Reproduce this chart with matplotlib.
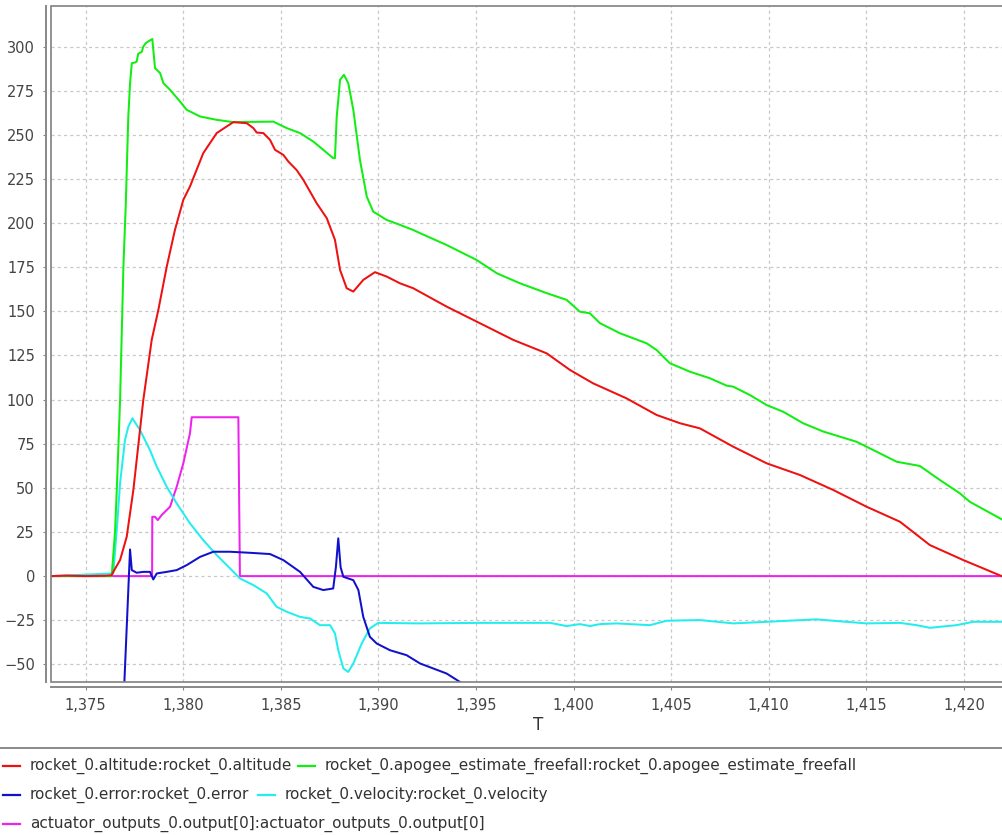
import matplotlib
matplotlib.use("Agg")
import matplotlib.pyplot as plt
from matplotlib.lines import Line2D
from matplotlib.patches import Rectangle
from matplotlib.ticker import FuncFormatter

# ---------------- data ----------------
t_alt = [1373.22, 1374.0, 1375.0, 1376.0, 1376.33, 1376.41, 1376.76, 1377.10, 1377.44, 1377.78,
         1377.95, 1378.38, 1378.72, 1379.15, 1379.57, 1380.00, 1380.34, 1381.02, 1381.71, 1382.56,
         1383.25, 1383.59, 1383.76, 1384.10, 1384.44, 1384.70, 1385.12, 1385.38, 1385.81, 1386.15,
         1386.49, 1386.83, 1387.35, 1387.77, 1388.03, 1388.37, 1388.71, 1389.22, 1389.82, 1390.42,
         1391.10, 1391.78, 1393.49, 1395.03, 1396.91, 1398.62, 1399.81, 1401.00, 1402.71, 1404.25,
         1405.45, 1406.47, 1408.18, 1409.89, 1411.59, 1413.30, 1415.01, 1416.72, 1418.25, 1419.96,
         1420.98, 1422.01]
altitude = [0.0, 0.3, 0.0, 0.2, 0.5, 2.4, 9.1, 22.3, 48.8, 82.8,
            99.8, 133.8, 150.8, 175.3, 196.1, 213.2, 220.7, 239.6, 251.0, 257.2,
            256.6, 253.8, 251.3, 251.0, 247.2, 241.5, 238.7, 234.9, 230.0, 224.5,
            217.9, 211.3, 202.8, 190.5, 173.5, 163.1, 161.2, 167.8, 172.2, 169.7,
            165.9, 163.1, 152.7, 144.2, 133.8, 126.2, 116.8, 109.2, 100.7, 91.3,
            86.6, 83.7, 73.3, 63.9, 57.3, 48.8, 39.3, 30.8, 17.6, 9.1,
            4.4, -0.4]

t_apo = [1373.22, 1376.33, 1376.50, 1376.59, 1376.76, 1376.93, 1377.05, 1377.18, 1377.27, 1377.36,
         1377.53, 1377.61, 1377.69, 1377.87, 1377.95, 1378.08, 1378.21, 1378.41, 1378.55, 1378.81,
         1378.98, 1379.32, 1379.83, 1380.17, 1380.86, 1381.71, 1382.56, 1384.61, 1384.78, 1385.30,
         1385.98, 1386.66, 1387.17, 1387.68, 1387.77, 1387.86, 1387.94, 1388.03, 1388.23, 1388.45,
         1388.71, 1389.05, 1389.40, 1389.73, 1390.42, 1391.10, 1391.78, 1392.13, 1393.49, 1395.03,
         1396.06, 1397.25, 1398.62, 1399.64, 1400.32, 1400.83, 1401.35, 1402.37, 1403.74, 1404.25,
         1404.93, 1405.96, 1406.98, 1407.84, 1408.18, 1409.03, 1409.89, 1410.74, 1411.76, 1412.79,
         1414.50, 1415.52, 1416.55, 1417.74, 1418.77, 1419.79, 1420.30, 1422.01]
apogee = [0.0, 0.0, 25.0, 48.8, 99.8, 175.3, 210.0, 260.0, 279.0, 290.6,
          291.0, 291.5, 296.0, 297.0, 300.0, 302.0, 303.0, 304.3, 287.8, 285.0,
          279.3, 275.5, 268.9, 264.2, 260.4, 258.5, 257.2, 257.5, 256.6, 253.8,
          251.0, 246.2, 241.5, 236.8, 236.8, 260.4, 269.8, 281.2, 284.0, 279.3,
          264.2, 235.8, 215.0, 206.5, 201.8, 199.0, 196.1, 194.3, 187.6, 179.1,
          171.6, 165.9, 160.3, 156.5, 149.8, 148.9, 143.3, 137.6, 131.9, 128.1,
          120.6, 115.8, 112.1, 107.9, 107.3, 102.6, 96.9, 93.1, 86.6, 81.9,
          76.1, 70.5, 64.8, 62.4, 54.4, 46.9, 42.1, 31.7]

t_err = [1376.98, 1377.27, 1377.36, 1377.61, 1377.95, 1378.29, 1378.46, 1378.64, 1379.15, 1379.66,
         1380.17, 1380.86, 1381.54, 1382.39, 1383.42, 1384.44, 1385.12, 1385.98, 1386.66, 1387.17,
         1387.68, 1387.82, 1387.94, 1388.06, 1388.20, 1388.71, 1388.97, 1389.22, 1389.56, 1389.91,
         1390.59, 1391.44, 1392.13, 1393.49, 1394.18]
error = [-60.0, 15.1, 3.4, 1.9, 2.4, 2.4, -1.9, 1.5, 2.4, 3.4,
         6.2, 10.9, 13.8, 13.8, 13.2, 12.5, 9.1, 2.4, -6.1, -7.9,
         -7.0, 5.3, 21.4, 5.0, -0.4, -2.3, -7.9, -23.1, -34.4, -38.2,
         -42.0, -44.8, -49.5, -55.2, -60.0]

t_vel = [1373.22, 1376.41, 1376.59, 1376.76, 1377.01, 1377.18, 1377.39, 1377.78, 1378.29, 1378.64,
         1379.15, 1379.66, 1380.34, 1381.02, 1381.71, 1382.39, 1382.90, 1383.59, 1384.27, 1384.78,
         1385.30, 1385.98, 1386.49, 1387.00, 1387.52, 1387.77, 1387.94, 1388.20, 1388.45, 1388.71,
         1389.14, 1389.56, 1389.99, 1392.00, 1395.20, 1398.79, 1399.64, 1400.32, 1400.83, 1401.35,
         1402.20, 1403.91, 1404.76, 1406.47, 1408.18, 1409.89, 1412.45, 1413.30, 1415.01, 1416.72,
         1417.57, 1418.25, 1419.62, 1420.47, 1422.01]
velocity = [0.0, 1.5, 26.1, 52.7, 77.1, 84.6, 89.4, 82.8, 71.4, 62.0,
            50.6, 41.2, 29.9, 20.4, 11.9, 4.4, -1.3, -5.1, -9.8, -17.4,
            -20.2, -23.1, -24.0, -27.8, -27.8, -32.5, -42.0, -52.3, -54.3, -49.5,
            -38.2, -29.6, -26.5, -26.8, -26.5, -26.5, -28.3, -27.2, -28.3, -27.2,
            -26.8, -27.8, -25.3, -24.9, -26.8, -25.9, -24.5, -25.3, -26.8, -26.5,
            -27.8, -29.3, -27.8, -25.9, -25.9]

t_act = [1373.22, 1378.40, 1378.41, 1378.55, 1378.69, 1378.89, 1379.32, 1379.66, 1380.00, 1380.34,
         1380.43, 1382.82, 1382.90, 1422.01]
actuator = [0.0, 0.0, 33.6, 33.6, 31.7, 34.6, 39.3, 50.6, 63.9, 80.9,
            90.0, 90.0, 0.0, 0.0]

labels = ["rocket_0.altitude:rocket_0.altitude",
          "rocket_0.apogee_estimate_freefall:rocket_0.apogee_estimate_freefall",
          "rocket_0.error:rocket_0.error",
          "rocket_0.velocity:rocket_0.velocity",
          "actuator_outputs_0.output[0]:actuator_outputs_0.output[0]"]
colors = ["#ee1111", "#11ee11", "#1111cc", "#22eeee", "#ee22ee"]
x_label = "T"
y_ticks = list(range(-50, 301, 25))
x_ticks = list(range(1375, 1421, 5))

# ---------------- figure ----------------
W, H = 1003, 835
fig = plt.figure(figsize=(W / 100, H / 100), dpi=100)
fig.patch.set_facecolor("white")
ax = fig.add_axes([51 / W, 1 - 682 / H, (1003 - 51) / W, (682 - 6) / H])

series = [(t_alt, altitude), (t_apo, apogee), (t_err, error), (t_vel, velocity), (t_act, actuator)]
for i, (t, v) in enumerate(series):
    ax.plot(t, v, color=colors[i], lw=1.45, zorder=10 - i, solid_joinstyle="round")

ax.set_xlim(1373.22, 1422.0)
ax.set_ylim(-60, 323)
ax.set_yticks(y_ticks)
ax.set_xticks(x_ticks)
ax.xaxis.set_major_formatter(FuncFormatter(lambda v, p: f"{v:,.0f}"))
ax.grid(True, color="#c8c8c8", lw=0.9, ls=(0, (2.5, 2.5)))
ax.set_axisbelow(True)

for s in ("top", "right"):
    ax.spines[s].set_visible(False)
for s in ("left", "bottom"):
    ax.spines[s].set_position(("outward", 3.6))
    ax.spines[s].set_color("#888888")
    ax.spines[s].set_linewidth(1.4)
ax.add_patch(Rectangle((0, 0), 1, 1, transform=ax.transAxes, fill=False,
                       edgecolor="#808080", lw=1.2, clip_on=False, zorder=20))

ax.tick_params(axis="both", length=2, width=0.8, color="#888888",
               labelcolor="#444444", labelsize=10.5)
ax.tick_params(axis="y", pad=6)
ax.tick_params(axis="x", pad=6)

fig.text(538 / W, 1 - 725 / H, x_label, ha="center", va="center",
         fontsize=12, color="#333333")

# legend separator
fig.add_artist(Line2D([0, 1], [1 - 748 / H] * 2, color="#777777", lw=1.2))

# legend items (flow layout like the reference)
items = [(3, 766, 0), (298, 766, 1), (3, 795, 2), (258, 795, 3), (3, 824, 4)]
for x0, y0, k in items:
    yy = 1 - y0 / H
    fig.add_artist(Line2D([x0 / W, (x0 + 17) / W], [yy, yy], color=colors[k], lw=1.6))
    fig.text((x0 + 27) / W, yy, labels[k], ha="left", va="center",
             fontsize=11, color="#333333")

fig.savefig("out.png", dpi=100)
